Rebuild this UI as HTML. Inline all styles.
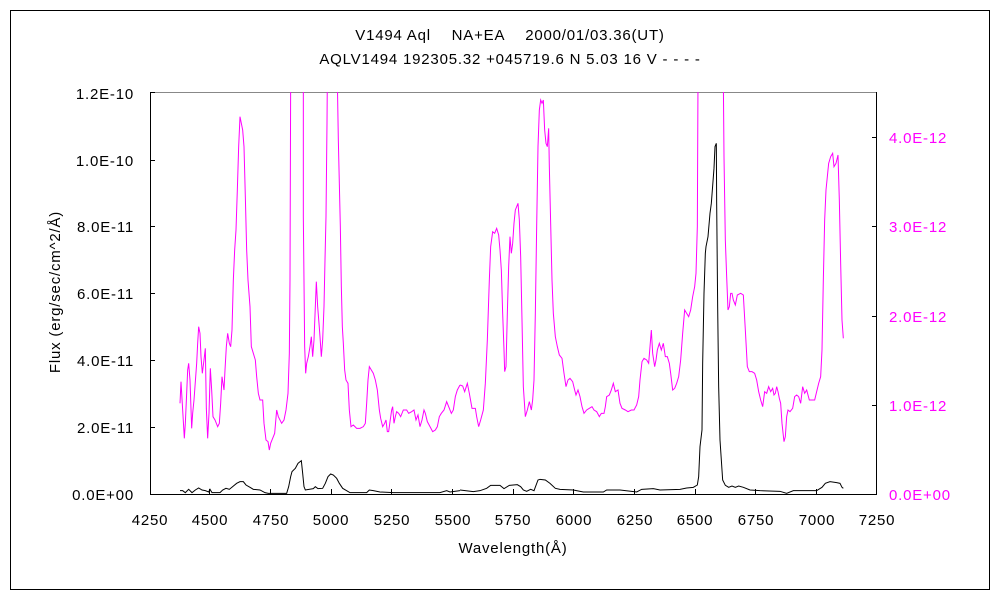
<!DOCTYPE html>
<html><head><meta charset="utf-8"><style>
html,body{margin:0;padding:0;background:#fff;}
svg{display:block;font-family:"Liberation Sans","Noto Sans CJK JP",sans-serif;}
</style></head><body>
<svg width="1000" height="600" viewBox="0 0 1000 600" xmlns="http://www.w3.org/2000/svg">
<rect x="10.5" y="10.5" width="979" height="579" fill="none" stroke="#000" stroke-width="1"/>
<g font-size="15" fill="#000" text-anchor="middle" letter-spacing="0.8">
<text x="510" y="40">V1494 Aql　 NA+EA　 2000/01/03.36(UT)</text>
<text x="510" y="64">AQLV1494 192305.32 +045719.6 N 5.03 16 V - - - -</text>
</g>
<line x1="150" y1="92.5" x2="877" y2="92.5" stroke="#888"/>
<line x1="150.5" y1="92" x2="150.5" y2="494" stroke="#000"/>
<line x1="876.5" y1="92" x2="876.5" y2="494" stroke="#000"/>
<line x1="150" y1="494.5" x2="877" y2="494.5" stroke="#000"/>
<g stroke="#000">
<line x1="150" y1="92.5" x2="155" y2="92.5"/><line x1="150" y1="160.5" x2="155" y2="160.5"/><line x1="150" y1="226.5" x2="155" y2="226.5"/><line x1="150" y1="293.5" x2="155" y2="293.5"/><line x1="150" y1="360.5" x2="155" y2="360.5"/><line x1="150" y1="427.5" x2="155" y2="427.5"/>
<line x1="872" y1="137.5" x2="877" y2="137.5"/><line x1="872" y1="226.5" x2="877" y2="226.5"/><line x1="872" y1="316.5" x2="877" y2="316.5"/><line x1="872" y1="405.5" x2="877" y2="405.5"/>
<line x1="209.5" y1="489" x2="209.5" y2="494"/><line x1="270.5" y1="489" x2="270.5" y2="494"/><line x1="331.5" y1="489" x2="331.5" y2="494"/><line x1="391.5" y1="489" x2="391.5" y2="494"/><line x1="452.5" y1="489" x2="452.5" y2="494"/><line x1="513.5" y1="489" x2="513.5" y2="494"/><line x1="573.5" y1="489" x2="573.5" y2="494"/><line x1="634.5" y1="489" x2="634.5" y2="494"/><line x1="695.5" y1="489" x2="695.5" y2="494"/><line x1="755.5" y1="489" x2="755.5" y2="494"/><line x1="816.5" y1="489" x2="816.5" y2="494"/>
</g>
<g font-size="15" fill="#000" text-anchor="end" letter-spacing="0.8">
<text x="134" y="99">1.2E-10</text><text x="134" y="166">1.0E-10</text><text x="134" y="232">8.0E-11</text><text x="134" y="299">6.0E-11</text><text x="134" y="366">4.0E-11</text><text x="134" y="433">2.0E-11</text><text x="134" y="500">0.0E+00</text>
</g>
<g font-size="15" fill="#ff00ff" text-anchor="start" letter-spacing="0.8">
<text x="889" y="143">4.0E-12</text><text x="889" y="232">3.0E-12</text><text x="889" y="322">2.0E-12</text><text x="889" y="411">1.0E-12</text><text x="889" y="500">0.0E+00</text>
</g>
<g font-size="15" fill="#000" text-anchor="middle" letter-spacing="0.8">
<text x="150" y="525">4250</text><text x="210" y="525">4500</text><text x="271" y="525">4750</text><text x="331" y="525">5000</text><text x="392" y="525">5250</text><text x="453" y="525">5500</text><text x="513" y="525">5750</text><text x="574" y="525">6000</text><text x="635" y="525">6250</text><text x="695" y="525">6500</text><text x="756" y="525">6750</text><text x="817" y="525">7000</text><text x="877" y="525">7250</text>
<text x="513" y="553">Wavelength(Å)</text>
<text transform="translate(60,292) rotate(-90)">Flux (erg/sec/cm^2/Å)</text>
</g>
<svg x="150" y="92" width="727" height="402" viewBox="150 92 727 402" overflow="hidden">
<g fill="none" stroke-width="1" stroke-linejoin="miter">
<g transform="translate(140,80) scale(0.33333)">
<polyline vector-effect="non-scaling-stroke" stroke="#ff00ff" points="120,970 123,905 128,990 133,1075 136,1030 140,940 143,870 146,850 150,900 155,1045 158,1000 162,960 166,905 170,850 173,790 176,740 180,760 183,830 187,880 192,840 196,805 199,985 203,1075 207,1000 211,865 215,930 219,1010 225,1020 233,1040 238,1030 242,970 246,890 252,930 255,870 259,800 263,760 268,790 272,800 276,750 280,600 284,510 288,450 292,330 296,200 300,110 304,130 308,150 312,200 316,350 320,510 324,600 330,680 334,800 340,820 346,840 350,890 355,940 360,960 368,960 372,1030 378,1080 384,1085 388,1110 392,1090 398,1075 404,1060 410,990 415,1010 425,1030 432,1020 438,990 444,940 448,820 450,600 452,0 490,0 490,410 494,800 497,880 500,850 505,830 510,800 514,770 518,830 522,780 526,680 529,605 533,680 537,730 540,770 544,830 548,780 552,680 555,540 558,410 561,130 562,0 592,0 595,180 598,310 601,440 604,620 607,740 610,790 614,870 618,900 624,910 628,990 633,1040 640,1035 650,1045 660,1045 670,1040 676,1030 680,970 684,900 688,860 694,870 700,880 706,900 712,930 718,990 722,1015 728,1040 734,1030 738,1020 742,1055 746,1055 750,1025 755,990 758,980 762,1030 766,1010 770,995 776,1000 782,1010 790,990 800,990 806,1000 815,995 822,990 828,1020 834,1005 840,1040 846,1020 852,990 856,1000 862,1025 870,1040 878,1055 886,1050 892,1040 898,1010 904,1000 912,990 920,965 928,985 934,1000 940,990 946,950 952,930 960,915"/>
<polyline vector-effect="non-scaling-stroke" stroke="#000" points="120,1232 128,1232 136,1238 146,1228 156,1238 166,1230 176,1224 186,1230 196,1232 206,1236 210,1228 216,1238 240,1238 248,1230 258,1225 268,1228 278,1220 290,1210 300,1205 310,1205 318,1215 330,1222 340,1228 360,1230 375,1238 385,1240 440,1240 446,1220 452,1190 456,1175 466,1165 474,1150 484,1142 488,1180 492,1220 496,1230 520,1226 526,1220 534,1226 548,1225 556,1210 564,1190 572,1182 580,1185 590,1195 598,1210 608,1225 630,1238 680,1238 688,1230 700,1232 720,1236 760,1238 900,1238 920,1232 930,1236 960,1232"/>
</g>
<g transform="translate(460,80) scale(0.33333)">
<polyline vector-effect="non-scaling-stroke" stroke="#ff00ff" points="0,915 8,918 14,935 22,910 28,940 36,985 46,985 50,1010 56,1040 62,1020 70,990 76,910 82,780 88,600 92,500 98,455 104,460 110,445 116,465 120,510 124,570 128,700 132,810 134,875 138,860 142,700 146,560 150,470 154,520 158,490 162,430 166,390 170,380 174,370 178,420 182,530 186,720 190,920 196,1010 202,990 208,965 214,990 218,960 222,900 226,700 230,440 234,200 238,90 242,60 246,70 250,60 254,150 258,190 262,200 266,145 268,260 272,430 276,600 280,700 286,770 292,800 298,825 306,835 312,880 318,920 324,900 330,895 338,905 344,930 348,945 354,930 360,950 366,980 372,1000 380,990 388,985 396,980 402,990 410,995 418,1010 424,1000 432,1000 436,980 440,950 448,945 454,930 460,910 466,935 474,930 480,970 486,985 496,990 504,995 514,990 522,990 530,975 536,950 540,900 546,845 552,835 560,840 566,850 570,800 574,750 578,820 584,860 588,840 592,810 598,790 604,810 610,790 616,830 622,830 628,850 632,880 638,930 644,925 650,910 656,890 662,840 668,760 674,690 680,700 686,710 692,690 698,650 704,620 708,580 712,440 714,0 790,0 792,230 796,480 800,590 804,690 808,680 812,640 816,640 820,660 826,675 832,645 842,640 850,645 856,750 862,860 868,875 876,875 884,880 890,900 896,935 902,960 908,980 914,935 920,940 926,920 932,935 938,925 942,945 946,940 950,920 954,935 958,955 962,970 966,1030 972,1085 976,1070 980,1010 984,990 990,995 998,985 1004,950 1010,945 1016,950 1022,970 1028,920 1034,940 1040,930 1048,960 1056,960 1064,960 1070,935 1076,910 1082,890 1086,810 1090,600 1094,420 1098,330 1102,290 1106,250 1112,230 1118,220 1122,260 1128,250 1134,225 1138,360 1142,550 1146,720 1150,775"/>
<polyline vector-effect="non-scaling-stroke" stroke="#000" points="0,1230 40,1235 60,1232 80,1225 92,1216 120,1216 132,1226 148,1216 172,1214 182,1220 190,1230 200,1234 212,1228 222,1232 234,1200 240,1198 256,1200 270,1210 286,1225 300,1228 340,1230 370,1236 430,1236 440,1230 480,1230 530,1236 545,1228 580,1226 600,1230 660,1228 680,1224 700,1222 712,1215 716,1190 720,1100 726,1050 728,850 732,640 736,520 738,500 744,470 750,400 754,370 762,265 765,200 769,190 770,370 773,680 776,920 780,1080 784,1140 788,1200 796,1216 806,1222 816,1218 826,1222 836,1218 850,1222 870,1230 900,1232 960,1234 980,1240 1000,1232 1070,1232 1086,1222 1096,1210 1110,1205 1130,1208 1140,1210 1146,1222 1150,1225"/>
</g>
</g>
</svg>
</svg>
</body></html>
